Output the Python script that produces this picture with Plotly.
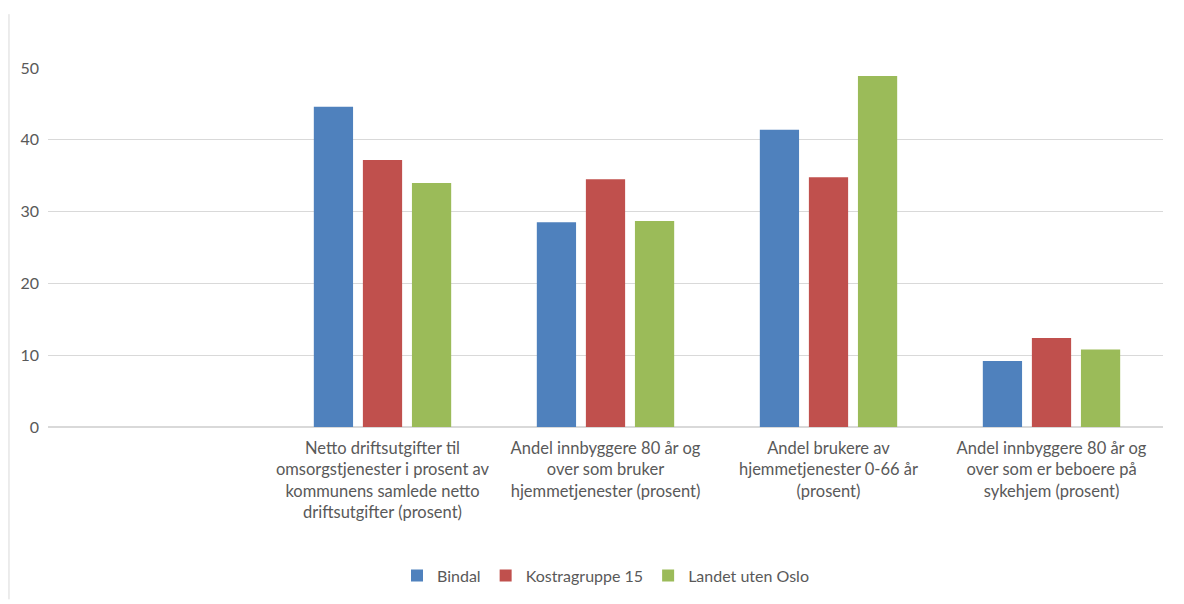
import plotly.graph_objects as go

categories = [
    " ",
    "Netto driftsutgifter til<br>omsorgstjenester i prosent av<br>kommunens samlede netto<br>driftsutgifter (prosent)",
    "Andel innbyggere 80 år og<br>over som bruker<br>hjemmetjenester (prosent)",
    "Andel brukere av<br>hjemmetjenester 0-66 år<br>(prosent)",
    "Andel innbyggere 80 år og<br>over som er beboere på<br>sykehjem (prosent)",
]
bindal = [None, 44.6, 28.5, 41.4, 9.2]
kostra = [None, 37.2, 34.5, 34.8, 12.4]
landet = [None, 34.0, 28.7, 48.9, 10.8]
series = [("Bindal", bindal, "#4F81BD"),
          ("Kostragruppe 15", kostra, "#C0504D"),
          ("Landet uten Oslo", landet, "#9BBB59")]
yticks = [0, 10, 20, 30, 40, 50]

fig = go.Figure()
for name, vals, col in series:
    fig.add_trace(go.Bar(x=categories, y=vals, name=name, marker_color=col,
                         marker_line_width=0))

font = "Lato, 'Open Sans', sans-serif"
fig.update_layout(
    width=1176, height=596,
    margin=dict(l=40, r=21, t=60, b=171),
    paper_bgcolor="white", plot_bgcolor="white",
    barmode="group", bargap=0.34, bargroupgap=0.2,
    font=dict(family=font, size=16.5, color="#595959"),
    legend=dict(orientation="h", x=0.5, xanchor="center", y=-0.414, yanchor="middle",
                font=dict(size=16, color="#595959"), itemwidth=30,
                traceorder="normal"),
    showlegend=True,
)
fig.update_xaxes(showgrid=False, showline=True, linecolor="#D9D9D9", linewidth=1,
                 ticks="", tickangle=0, ticklabelstandoff=6,
                 tickfont=dict(size=16.5, color="#595959"))
fig.update_yaxes(range=[0, 50], tickvals=yticks, showgrid=True, gridcolor="#D9D9D9",
                 zeroline=True, zerolinecolor="#D9D9D9", showline=False,
                 ticks="", ticklabelstandoff=8, tickfont=dict(size=16, color="#595959"))
fig.add_shape(type="line", xref="paper", yref="paper", x0=-0.035, x1=-0.035,
              y0=1.15, y1=-0.48, line=dict(color="#D9D9D9", width=1))
fig.write_html("out.html")
